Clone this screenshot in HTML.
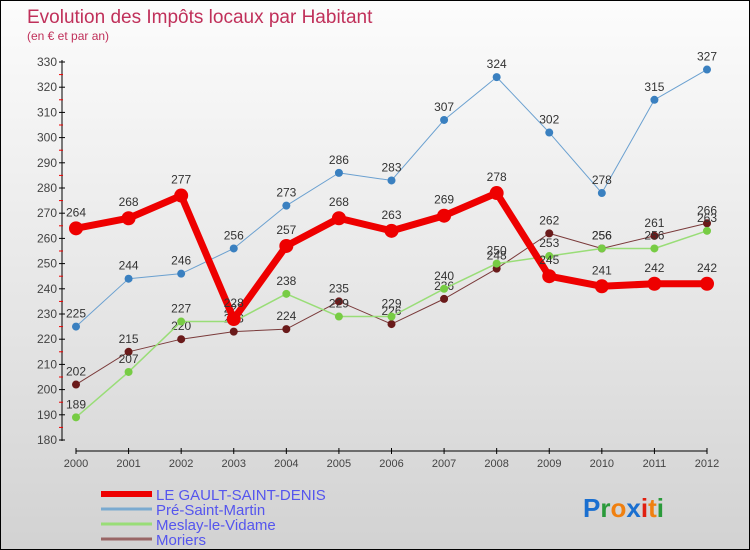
<!DOCTYPE html>
<html><head><meta charset="utf-8"><style>
body{margin:0}
#c{width:750px;height:550px;position:relative;background:linear-gradient(#fcfcfc,#e4e4e4 60%,#d2d2d2);box-sizing:border-box;border:1px solid #000;overflow:hidden;font-family:"Liberation Sans",sans-serif}
</style></head><body>
<div id="c">
<svg id="s" width="750" height="550" style="position:absolute;left:0;top:0"></svg>
</div>
<script>
const years=[2000,2001,2002,2003,2004,2005,2006,2007,2008,2009,2010,2011,2012];
const gault=[264,268,277,228,257,268,263,269,278,245,241,242,242];
const pre=[225,244,246,256,273,286,283,307,324,302,278,315,327];
const meslay=[189,207,227,227,238,229,229,240,250,253,256,256,263];
const moriers=[202,215,220,223,224,235,226,236,248,262,256,261,266];
const yTicks=[180,190,200,210,220,230,240,250,260,270,280,290,300,310,320,330];
const NS="http://www.w3.org/2000/svg";
const s=document.getElementById('s');
function X(i){return 75+i*(706-75)/12;}
function Y(v){return 439-(v-180)*(439-61)/150;}
function el(t,a,p){const e=document.createElementNS(NS,t);for(const k in a)e.setAttribute(k,a[k]);(p||s).appendChild(e);return e;}
// title
let t=el('text',{x:26,y:22,fill:'#c0305a','font-size':19});t.textContent='Evolution des Impôts locaux par Habitant';

t=el('text',{x:26,y:39,fill:'#c0305a','font-size':12});t.textContent='(en € et par an)';

// axes
let a=el('line',{x1:61,y1:59,x2:61,y2:440,stroke:'#000'});
a=el('line',{x1:75,y1:450,x2:706,y2:450,stroke:'#000'});
yTicks.forEach((v,i)=>{const y=Y(v);el('line',{x1:58,y1:y,x2:64,y2:y,stroke:'#000'});
 if(i<yTicks.length-1)el('line',{x1:58,y1:Y(v+5),x2:62,y2:Y(v+5),stroke:'#e00'});
 const l=el('text',{x:56,y:y+4,'text-anchor':'end','font-size':12,fill:'#444'});l.textContent=v;
 });
years.forEach((yr,i)=>{el('line',{x1:X(i),y1:447,x2:X(i),y2:453,stroke:'#000'});
 const l=el('text',{x:X(i),y:466,'text-anchor':'middle','font-size':11,fill:'#444'});l.textContent=yr;
 });
function series(d,col,dot,w,r,name){
 const g=el('g',{});
 el('polyline',{points:d.map((v,i)=>X(i)+','+Y(v)).join(' '),fill:'none',stroke:col,'stroke-width':w,'stroke-linejoin':'round'},g);
 d.forEach((v,i)=>{const c=el('circle',{cx:X(i),cy:Y(v),r:r,fill:dot},g);
  
  const l=el('text',{x:X(i),y:Y(v)-(r+5),'text-anchor':'middle','font-size':12,fill:'#333'},g);l.textContent=v;
  });
}
series(moriers,'#7a3a3a','#6a1a1a',1,4,'moriers');
series(meslay,'#99dd77','#77cc44',1.5,4,'meslay');
series(pre,'#6aa0d0','#3a80c0',1,4,'pre-saint-martin');
series(gault,'#ee0000','#ee0000',7,7,'gault');
// legend
const leg=[['LE GAULT-SAINT-DENIS','#ee0000',6],['Pré-Saint-Martin','#7aaad0',3],['Meslay-le-Vidame','#99dd77',3],['Moriers','#996666',3]];
leg.forEach((e,i)=>{const y=493+i*15;
 const g=el('g',{});
 el('line',{x1:100,y1:y,x2:151,y2:y,stroke:e[1],'stroke-width':e[2]},g);
 const l=el('text',{x:155,y:y+6,'font-size':15,fill:'#5555ee'},g);l.textContent=e[0];});
// logo
const lg=el('text',{x:582,y:516,'font-size':26,'font-weight':'bold'});
[['P','#1a6fd0'],['r','#2a9a3a'],['o','#f08010'],['x','#1a6fd0'],['i','#e02010'],['t','#f08010'],['i','#2a9a3a']].forEach(p=>{const ts=el('tspan',{fill:p[1]},lg);ts.textContent=p[0];});
</script>
</body></html>
